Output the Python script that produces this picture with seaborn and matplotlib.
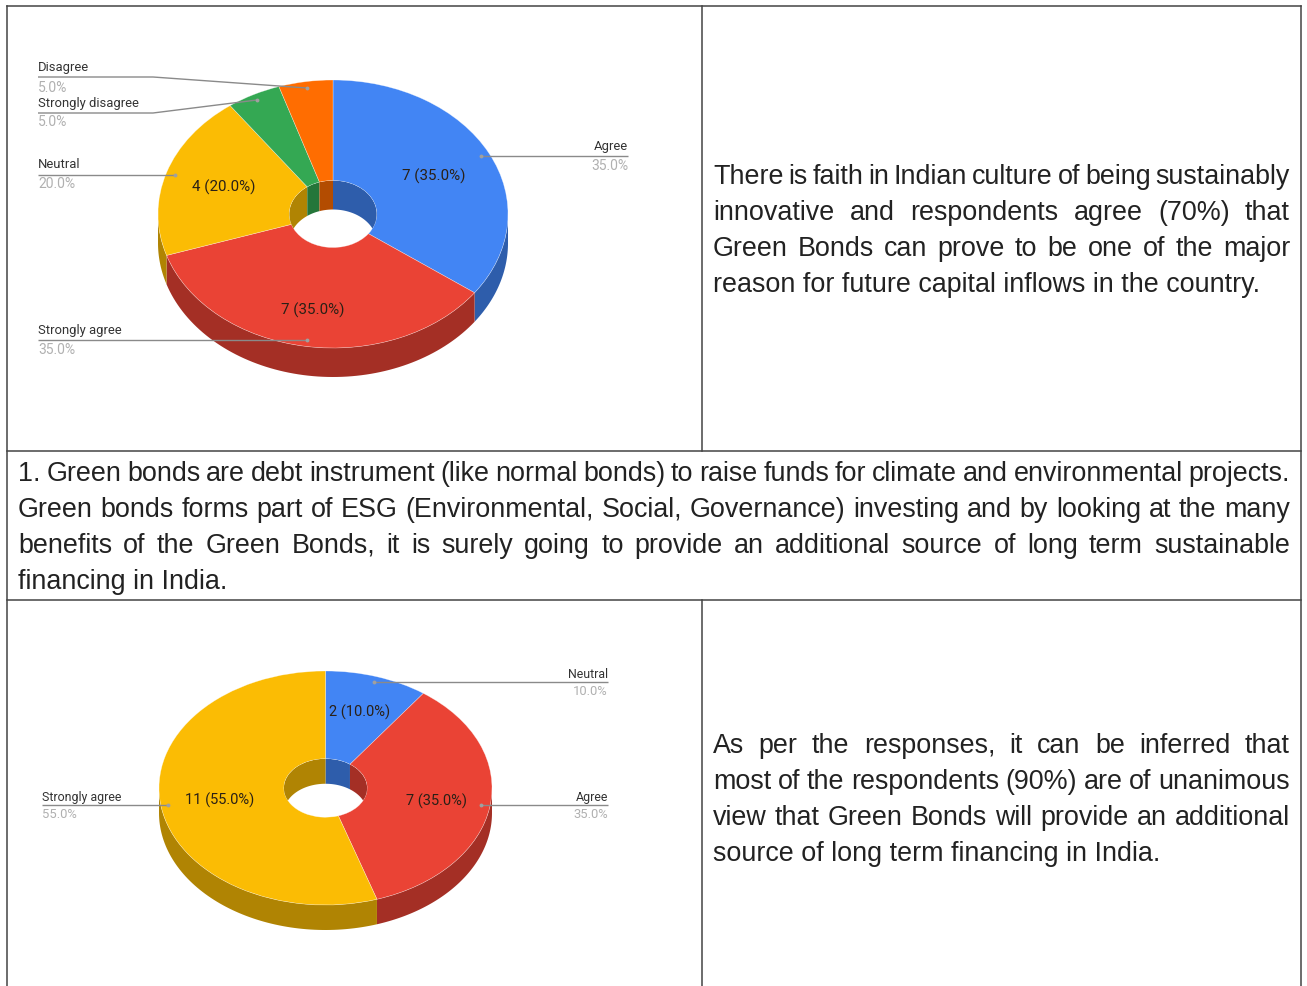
import numpy as np
import matplotlib
matplotlib.use("Agg")
import matplotlib.pyplot as plt
import matplotlib.colors as mcolors
from matplotlib.patches import Ellipse
import seaborn as sns

# chart data
labels_top = ['Agree', 'Strongly agree', 'Neutral', 'Strongly disagree', 'Disagree']
counts_top = [7, 7, 4, 1, 1]
colors_top = ['#4285F4', '#EA4335', '#FBBC04', '#34A853', '#FF6D01']

labels_bottom = ['Neutral', 'Agree', 'Strongly agree']
counts_bottom = [2, 7, 11]
colors_bottom = ['#4285F4', '#EA4335', '#FBBC04']

text_top = ["There is faith in Indian culture of being sustainably",
            "innovative and respondents agree (70%) that",
            "Green Bonds can prove to be one of the major",
            "reason for future capital inflows in the country."]
text_middle = ["1. Green bonds are debt instrument (like normal bonds) to raise funds for climate and environmental projects.",
               "Green bonds forms part of ESG (Environmental, Social, Governance) investing and by looking at the many",
               "benefits of the Green Bonds, it is surely going to provide an additional source of long term sustainable",
               "financing in India."]
text_bottom = ["As per the responses, it can be inferred that",
               "most of the respondents (90%) are of unanimous",
               "view that Green Bonds will provide an additional",
               "source of long term financing in India."]

W, H = 1307, 986
HOLE = 0.25
CHART_FONT = ['Roboto', 'DejaVu Sans']
BODY_FONT = ['Liberation Sans', 'DejaVu Sans']

sns.set_theme(style="white")
fig = plt.figure(figsize=(W / 100, H / 100), dpi=100, facecolor='white')

overlay = fig.add_axes([0, 0, 1, 1], zorder=5)
overlay.set_xlim(0, W)
overlay.set_ylim(H, 0)
overlay.axis('off')


def arc(radius, start, stop, drop=0.0):
    t = np.radians(np.linspace(start, stop, 80))
    return radius * np.sin(t), radius * np.cos(t) - drop


def Pie3D(values, colors, cx, cy, rx, ry, depth):
    ax = fig.add_axes([(cx - rx) / W, 1 - (cy + ry) / H, 2 * rx / W, 2 * ry / H], zorder=2)
    ax.pie(values, colors=colors, startangle=90, counterclock=False, radius=1,
           wedgeprops={'width': 1 - HOLE, 'edgecolor': '#ffffff80', 'linewidth': 0.4})
    ax.set_aspect('auto')
    drop = depth / ry
    edges = np.cumsum([0] + list(values)) / sum(values) * 360
    hole = Ellipse((0, 0), 2 * HOLE, 2 * HOLE, transform=ax.transData)

    for i, color in enumerate(colors):
        dark = np.array(mcolors.to_rgb(color)) * 0.7
        # outer wall, only the front half shows
        a, b = max(edges[i], 90), min(edges[i + 1], 270)
        if b > a:
            x1, y1 = arc(1, a, b)
            x2, y2 = arc(1, b, a, drop)
            ax.fill(np.r_[x1, x2], np.r_[y1, y2], color=dark, lw=0, zorder=0, clip_on=False)
        # inner wall of the hole, back half only
        for lo, hi in [(0, 90), (270, 360)]:
            a, b = max(edges[i], lo), min(edges[i + 1], hi)
            if b > a:
                x1, y1 = arc(HOLE, a, b)
                x2, y2 = arc(HOLE, b, a, drop)
                wall = ax.fill(np.r_[x1, x2], np.r_[y1, y2], color=dark, lw=0, zorder=3)[0]
                wall.set_clip_path(hole)
    ax.set_xlim(-1, 1)
    ax.set_ylim(-1, 1)
    ax.axis('off')


def Leader(points, dot):
    xs, ys = zip(*points)
    overlay.plot(xs, ys, color='#8a8a8a', lw=1, solid_capstyle='butt')
    overlay.plot(*dot, 'o', color='#a0a0a0', ms=2.8, mew=0)


def ChartLabel(x, y1, y2, name, pct, ha='left', size=9.4, pct_size=10):
    overlay.text(x, y1 + 0.5, name, ha=ha, va='center', fontsize=size, family=CHART_FONT, color='#333333')
    overlay.text(x, y2 + 0.5, pct, ha=ha, va='center', fontsize=pct_size, family=CHART_FONT, color='#b0b0b0')


def SliceLabel(x, y, text, size=10.9):
    overlay.text(x, y + 0.5, text, ha='center', va='center', fontsize=size, family=CHART_FONT, color='#2a2016')


def Justified(lines, x0, x1, y0, step=36, size=19.4):
    rend = fig.canvas.get_renderer()
    for n, line in enumerate(lines):
        y = y0 + n * step
        if n == len(lines) - 1:
            overlay.text(x0, y, line, ha='left', va='baseline', fontsize=size, family=BODY_FONT, color='#222222')
            continue
        words = line.split(' ')
        items = [overlay.text(0, y, w, ha='left', va='baseline', fontsize=size, family=BODY_FONT, color='#222222')
                 for w in words]
        widths = [t.get_window_extent(rend).width for t in items]
        gap = (x1 - x0 - sum(widths)) / (len(words) - 1)
        x = x0
        for t, w in zip(items, widths):
            t.set_x(x)
            x += w + gap


Pie3D(counts_top, colors_top, 333, 214, 175, 134, 29)
Pie3D(counts_bottom, colors_bottom, 325.5, 788, 166.5, 117, 25)

# table grid
for xs, ys in [((7, 1301), (6, 6)), ((7, 1301), (451, 451)), ((7, 1301), (600, 600)),
               ((7, 7), (6, 986)), ((1301, 1301), (6, 986)),
               ((702, 702), (6, 451)), ((702, 702), (600, 986))]:
    overlay.plot(xs, ys, color='#444444', lw=1.1, solid_capstyle='projecting', clip_on=False)

# upper chart labels
Leader([(38, 77), (153, 77), (307, 88)], (307, 88))
Leader([(38, 113), (153, 113), (257, 100)], (257, 100))
Leader([(38, 175), (175, 175)], (175, 175))
Leader([(38, 340), (307, 340)], (307, 340))
Leader([(628, 156), (481, 156)], (481, 156))
ChartLabel(38, 67, 87, labels_top[4], '5.0%')
ChartLabel(38, 103, 122, labels_top[3], '5.0%')
ChartLabel(38, 164, 184, labels_top[2], '20.0%')
ChartLabel(38, 330, 349, labels_top[1], '35.0%')
ChartLabel(628, 146, 166, labels_top[0], '35.0%', ha='right')
SliceLabel(434, 176, '7 (35.0%)')
SliceLabel(224, 187, '4 (20.0%)')
SliceLabel(313, 310, '7 (35.0%)')

# lower chart labels
Leader([(608, 682), (374, 682)], (374, 682))
Leader([(608, 805), (481, 805)], (481, 805))
Leader([(42, 805), (168, 805)], (168, 805))
ChartLabel(608, 674, 691, labels_bottom[0], '10.0%', ha='right', size=8.9, pct_size=9.4)
ChartLabel(608, 797, 814, labels_bottom[1], '35.0%', ha='right', size=8.9, pct_size=9.4)
ChartLabel(42, 797, 814, labels_bottom[2], '55.0%', size=8.9, pct_size=9.4)
SliceLabel(360, 712, '2 (10.0%)', size=10.5)
SliceLabel(436, 801, '7 (35.0%)', size=10.5)
SliceLabel(220, 800, '11 (55.0%)', size=10.5)

Justified(text_top, 713, 1290, 184)
Justified(text_middle, 18, 1290, 481)
Justified(text_bottom, 713, 1290, 753)

fig.savefig('out.png', dpi=100)
